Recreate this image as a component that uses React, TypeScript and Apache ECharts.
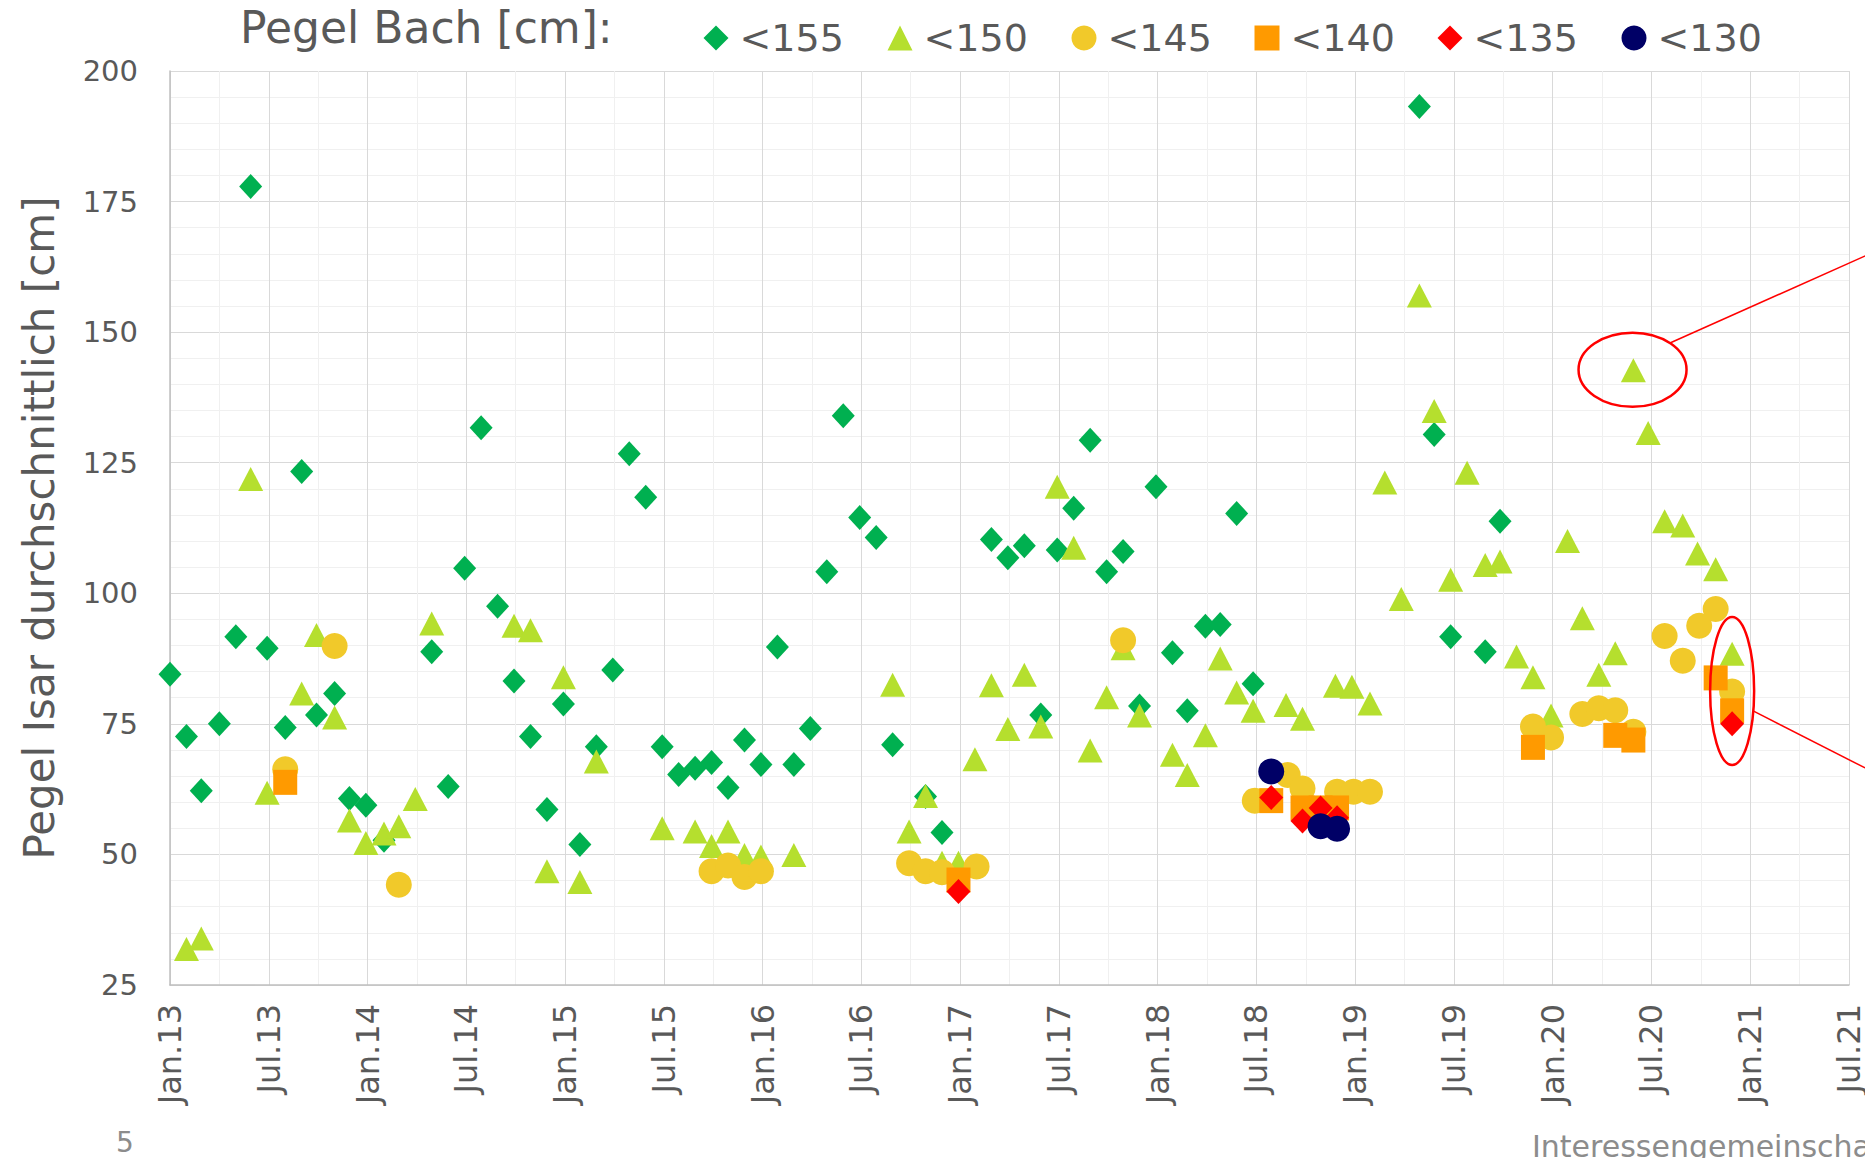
import React, { useEffect, useRef } from "react";
import * as echarts from "echarts";

// ---------- data ----------
// x = months since January 2013, y = Pegel Isar durchschnittlich [cm]
const SERIES_NAMES = ["<155", "<150", "<145", "<140", "<135", "<130"];

const BACH_155: [number, number][] = [
  [0, 84.5], [1.0, 72.6], [1.9, 62.2], [3.0, 75], [4.0, 91.7], [4.9, 177.9], [5.9, 89.5], [7.0, 74.3],
  [8.0, 123.3], [8.9, 76.7], [10.0, 80.8], [10.9, 60.7], [11.9, 59.4], [13.0, 52.7], [15.9, 88.8],
  [16.9, 63], [17.9, 104.8], [18.9, 131.7], [19.9, 97.5], [20.9, 83.2], [21.9, 72.6], [22.9, 58.6],
  [23.9, 78.8], [24.9, 51.9], [25.9, 70.6], [26.9, 85.3], [27.9, 126.7], [28.9, 118.4], [29.9, 70.6],
  [30.9, 65.3], [31.9, 66.5], [32.9, 67.6], [33.9, 62.8], [34.9, 71.9], [35.9, 67.2], [36.9, 89.7],
  [37.9, 67.2], [38.9, 74.1], [39.9, 104.1], [40.9, 134], [41.9, 114.5], [42.9, 110.7], [43.9, 71],
  [45.9, 61.1], [46.9, 54.2], [49.9, 110.3], [50.9, 106.8], [51.9, 109.1], [52.9, 76.7], [53.9, 108.3],
  [54.9, 116.3], [55.9, 129.3], [56.9, 104.1], [57.9, 108], [58.9, 78.4], [59.9, 120.4], [60.9, 88.6],
  [61.8, 77.5], [62.9, 93.7], [63.8, 94], [64.8, 115.3], [65.8, 82.7], [75.9, 193.2], [76.8, 130.4],
  [77.8, 91.7], [79.9, 88.8], [80.8, 113.8],
];

const BACH_150: [number, number][] = [
  [1.0, 31.9], [1.9, 33.9], [4.9, 121.9], [5.9, 61.8], [8.0, 80.8], [8.9, 92], [10.0, 76.2], [10.9, 56.5],
  [11.9, 52.2], [13.0, 54], [13.9, 55.4], [14.9, 60.6], [15.9, 94.2], [20.9, 93.8], [21.9, 92.9],
  [22.9, 46.8], [23.9, 83.9], [24.9, 44.7], [25.9, 67.8], [29.9, 55], [31.9, 54.4], [32.9, 51.6],
  [33.9, 54.4], [34.9, 49.9], [35.9, 49.6], [37.9, 49.9], [43.9, 82.5], [44.9, 54.4], [45.9, 61.2],
  [46.9, 48.4], [47.9, 48.4], [48.9, 68.2], [49.9, 82.4], [50.9, 74], [51.9, 84.4], [52.9, 74.5],
  [53.9, 120.4], [54.9, 108.7], [55.9, 69.9], [56.9, 80.1], [57.9, 89.5], [58.9, 76.6], [60.9, 69.1],
  [61.8, 65.2], [62.9, 72.8], [63.8, 87.5], [64.8, 81], [65.8, 77.5], [67.8, 78.6], [68.8, 76],
  [70.8, 82.3], [71.8, 82.1], [72.9, 78.9], [73.8, 121.2], [74.8, 98.9], [75.9, 157], [76.8, 134.9],
  [77.8, 102.6], [78.8, 123.1], [79.9, 105.4], [80.8, 106.1], [81.8, 87.9], [82.8, 83.9], [83.9, 76.6],
  [84.9, 110], [85.8, 95.2], [86.8, 84.4], [87.8, 88.5], [88.9, 142.7], [89.8, 130.7], [90.8, 113.8],
  [91.9, 113], [92.8, 107.6], [93.9, 104.6], [94.9, 88.4],
];

const BACH_145: [number, number][] = [
  [7.0, 66.3], [10.0, 89.9], [13.9, 44.2], [32.9, 46.8], [33.9, 47.9], [34.9, 45.7], [35.9, 46.8],
  [44.9, 48.3], [45.9, 46.8], [46.9, 46.6], [49.0, 47.7], [57.9, 91], [65.9, 60.3], [67.9, 65.2],
  [68.8, 62.6], [70.9, 62], [71.9, 62], [72.9, 62], [82.8, 74.5], [83.9, 72.4], [85.8, 76.9],
  [86.8, 78], [87.8, 77.6], [88.9, 73.5], [90.8, 91.8], [91.9, 87.1], [92.9, 93.8], [93.9, 97],
  [94.9, 81.2],
];

const BACH_140: [number, number][] = [
  [7.0, 63.8], [47.9, 45.1], [66.9, 60.3], [68.8, 58.9], [69.9, 58.9], [70.9, 58.9], [82.8, 70.5],
  [87.8, 72.8], [88.9, 71.9], [93.9, 83.8], [94.9, 77.5],
];

const BACH_135: [number, number][] = [
  [47.9, 42.9], [66.9, 60.9], [68.8, 56.4], [69.9, 58.9], [70.9, 57], [94.9, 75],
];

const BACH_130: [number, number][] = [
  [66.9, 65.9], [69.9, 55.4], [70.9, 54.9],
];

const X_TICK_LABELS = [
  "Jan.13", "Jul.13", "Jan.14", "Jul.14", "Jan.15", "Jul.15", "Jan.16", "Jul.16", "Jan.17",
  "Jul.17", "Jan.18", "Jul.18", "Jan.19", "Jul.19", "Jan.20", "Jul.20", "Jan.21", "Jul.21",
];

// highlighted points (data coordinates) that the red ellipses mark
const HIGHLIGHT_1: [number, number] = [88.85, 142.8];
const HIGHLIGHT_2: [number, number] = [94.9, 81.3];

// ---------- styling ----------
const SERIES_DATA = [BACH_155, BACH_150, BACH_145, BACH_140, BACH_135, BACH_130];
const COLORS = ["#00B050", "#B5DF2E", "#F1C92A", "#FF9A00", "#FF0000", "#000066"];
const SYMBOLS = ["diamond", "triangle", "circle", "rect", "diamond", "circle"];
const SIZES: [number, number][] = [[23, 25], [25, 24], [26, 26], [24, 25], [24, 25], [26, 26]];
const LEGEND_CENTERS = [716, 900, 1084, 1267, 1450, 1634];
const FONT = "DejaVu Sans";
const TEXT = "#595959";

export default function App() {
  const ref = useRef<HTMLDivElement>(null);

  useEffect(() => {
    if (!ref.current) return;
    const chart = echarts.init(ref.current, undefined, { renderer: "svg" });

    const option: any = {
      animation: false,
      backgroundColor: "#FFFFFF",
      textStyle: { fontFamily: FONT },
      title: {
        text: "Pegel Bach [cm]:",
        left: 240,
        top: 5,
        padding: 0,
        textStyle: { fontFamily: FONT, fontSize: 44, fontWeight: "normal", color: TEXT },
      },
      legend: SERIES_NAMES.map((n, i) => ({
        data: [n],
        left: LEGEND_CENTERS[i] - 12.5,
        top: 19,
        padding: 0,
        itemWidth: 25,
        itemHeight: 25,
        textStyle: { fontFamily: FONT, fontSize: 38, color: TEXT, padding: [0, 0, 0, 6] },
      })),
      grid: { left: 170, right: 14, top: 71, bottom: 173, containLabel: false },
      xAxis: {
        type: "value",
        min: 0,
        max: 102,
        interval: 6,
        axisLine: { show: true, lineStyle: { color: "#BFBFBF", width: 1.5 } },
        axisTick: { show: false },
        axisLabel: {
          rotate: 90,
          margin: 19,
          fontFamily: FONT,
          fontSize: 32,
          color: TEXT,
          formatter: (v: number) => X_TICK_LABELS[Math.round(v / 6)] ?? "",
        },
        splitLine: { show: true, lineStyle: { color: "#D9D9D9", width: 1 } },
        minorTick: { show: false, splitNumber: 2 },
        minorSplitLine: { show: true, lineStyle: { color: "#F0F0F0", width: 1 } },
      },
      yAxis: {
        type: "value",
        min: 25,
        max: 200,
        interval: 25,
        name: "Pegel Isar durchschnittlich [cm]",
        nameLocation: "middle",
        nameGap: 110,
        nameRotate: 90,
        nameTextStyle: { fontFamily: FONT, fontSize: 42, color: TEXT },
        axisLine: { show: true, lineStyle: { color: "#BFBFBF", width: 1.5 } },
        axisTick: { show: false },
        axisLabel: { margin: 32, fontFamily: FONT, fontSize: 29, color: TEXT },
        splitLine: { show: true, lineStyle: { color: "#D9D9D9", width: 1 } },
        minorTick: { show: false, splitNumber: 5 },
        minorSplitLine: { show: true, lineStyle: { color: "#F0F0F0", width: 1 } },
      },
      series: SERIES_NAMES.map((n, i) => ({
        name: n,
        type: "scatter",
        data: SERIES_DATA[i],
        symbol: SYMBOLS[i],
        symbolSize: SIZES[i],
        itemStyle: { color: COLORS[i], opacity: 1 },
        z: 2 + i,
        emphasis: { disabled: true },
      })),
    };
    chart.setOption(option);

    const c1 = chart.convertToPixel({ xAxisIndex: 0, yAxisIndex: 0 }, HIGHLIGHT_1) as number[];
    const c2 = chart.convertToPixel({ xAxisIndex: 0, yAxisIndex: 0 }, HIGHLIGHT_2) as number[];
    const red = "#FF0000";
    chart.setOption({
      graphic: [
        {
          type: "ellipse",
          shape: { cx: c1[0], cy: c1[1], rx: 54, ry: 37 },
          style: { fill: "none", stroke: red, lineWidth: 2.5 },
          z: 100,
        },
        {
          type: "line",
          shape: { x1: c1[0] + 38, y1: c1[1] - 27, x2: c1[0] + 233, y2: c1[1] - 114 },
          style: { stroke: red, lineWidth: 1.5 },
          z: 100,
        },
        {
          type: "ellipse",
          shape: { cx: c2[0], cy: c2[1], rx: 22, ry: 74 },
          style: { fill: "none", stroke: red, lineWidth: 2.5 },
          z: 100,
        },
        {
          type: "line",
          shape: { x1: c2[0] + 21, y1: c2[1] + 20, x2: c2[0] + 133, y2: c2[1] + 77 },
          style: { stroke: red, lineWidth: 1.5 },
          z: 100,
        },
        {
          type: "text",
          style: { text: "5", x: 116, y: 1142, font: `28px "${FONT}"`, fill: "#8C8C8C", verticalAlign: "middle" },
          z: 100,
        },
        {
          type: "text",
          style: {
            text: "Interessengemeinschaft",
            x: 1532,
            y: 1146,
            font: `30px "${FONT}"`,
            fill: "#8C8C8C",
            verticalAlign: "middle",
          },
          z: 100,
        },
      ],
    });

    return () => chart.dispose();
  }, []);

  return (
    <div
      ref={ref}
      style={{ position: "absolute", left: 0, top: 0, width: 1865, height: 1158, overflow: "hidden" }}
    />
  );
}
